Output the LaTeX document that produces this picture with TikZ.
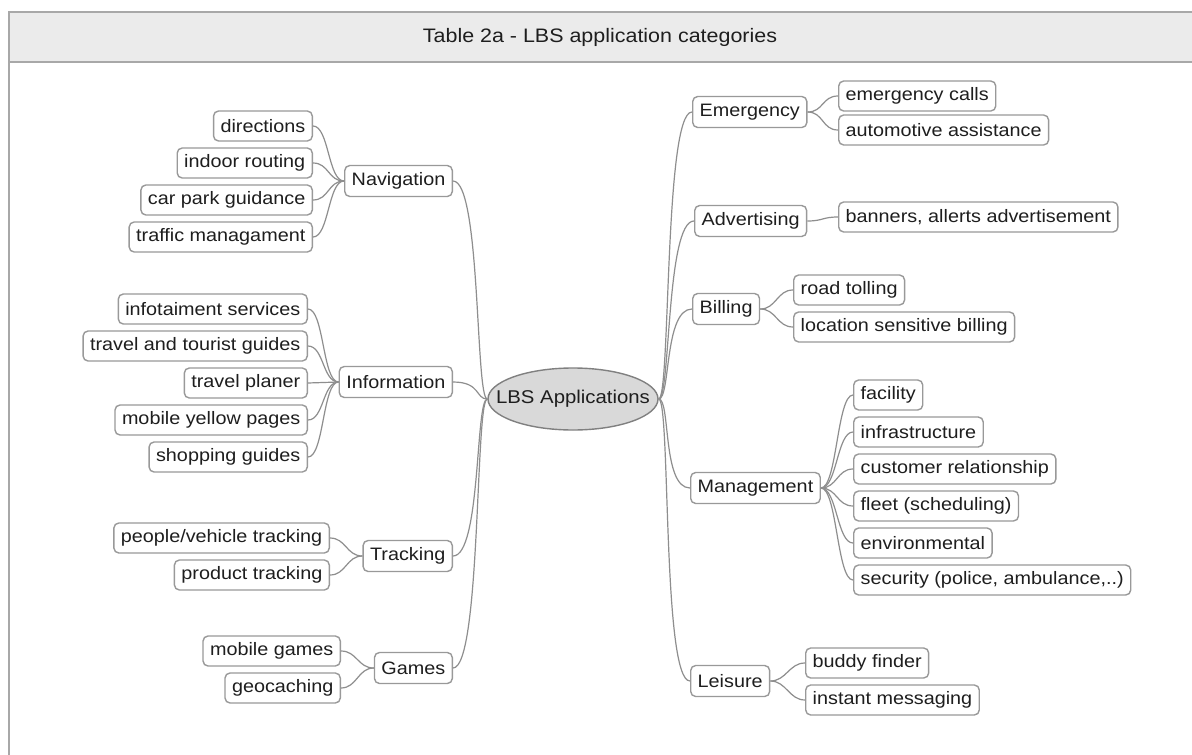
\documentclass[tikz,border=0pt]{standalone}
\usepackage{fontspec}
\setmainfont{Liberation Sans}[FakeStretch=1.1]
\usetikzlibrary{shapes.geometric}
\definecolor{framegray}{HTML}{A8A8A8}
\definecolor{headfill}{HTML}{EBEBEB}
\definecolor{boxline}{HTML}{999999}
\definecolor{edgegray}{HTML}{8E8E8E}
\definecolor{inkgray}{HTML}{1E1E1E}
\definecolor{hubfill}{HTML}{D9D9D9}
\tikzset{
  leaf/.style={draw=boxline, line width=1.4pt, fill=white, rounded corners=5pt,
    inner xsep=7pt, inner ysep=0pt, minimum height=30pt, text=inkgray,
    font=\fontsize{18}{20}\selectfont},
  branch/.style={leaf, minimum height=31pt},
  hub/.style={ellipse, draw=gray, line width=1.4pt, fill=hubfill, inner sep=0pt,
    minimum width=170pt, minimum height=62pt, text=inkgray,
    font=\fontsize{18.5}{20}\selectfont},
  link/.style={draw=edgegray, line width=1.2pt},
}
\newcommand{\lnk}[2]{\draw[link] (#1.west) .. controls +(-16,0) and +(16,0) .. (#2.east);}
\newcommand{\rnk}[2]{\draw[link] (#1.east) .. controls +(16,0) and +(-16,0) .. (#2.west);}
\begin{document}
\begin{tikzpicture}[x=1pt, y=-1pt]
\useasboundingbox (0,0) rectangle (1192,755);
% frame and title band
\fill[white] (0,0) rectangle (1192,755);
\draw[framegray, line width=2pt, fill=headfill] (9,12) rectangle (1200,62);
\draw[framegray, line width=2pt] (9,12) -- (9,760);
\node[text=inkgray, font=\fontsize{19.5}{22}\selectfont] (title) at (600,37) {Table 2a - LBS application categories};

% central node (text held in a zero-width box so the ellipse keeps its size)
\node[hub] (c) at (573,399) {\makebox[0pt]{LBS Applications}};

% left branches
\node[branch, anchor=east] (nav) at (453,181) {Navigation};
\node[branch, anchor=east] (inf) at (453,382) {Information};
\node[branch, anchor=east] (trk) at (453,556) {Tracking};
\node[branch, anchor=east] (gam) at (453,668) {Games};

% right branches
\node[branch, anchor=west] (emg) at (692,112) {Emergency};
\node[branch, anchor=west] (adv) at (694,221) {Advertising};
\node[branch, anchor=west] (bil) at (692,309) {Billing};
\node[branch, anchor=west] (mng) at (690,488) {Management};
\node[branch, anchor=west] (lei) at (690,681) {Leisure};

% navigation leaves
\node[leaf, anchor=east] (n1) at (313,126) {directions};
\node[leaf, anchor=east] (n2) at (313,163) {indoor routing};
\node[leaf, anchor=east] (n3) at (313,200) {car park guidance};
\node[leaf, anchor=east] (n4) at (313,237) {traffic managament};
% information leaves
\node[leaf, anchor=east] (i1) at (308,309) {infotaiment services};
\node[leaf, anchor=east] (i2) at (308,346) {travel and tourist guides};
\node[leaf, anchor=east] (i3) at (308,383) {travel planer};
\node[leaf, anchor=east] (i4) at (308,420) {mobile yellow pages};
\node[leaf, anchor=east] (i5) at (308,457) {shopping guides};
% tracking leaves
\node[leaf, anchor=east] (t1) at (330,538) {people/vehicle tracking};
\node[leaf, anchor=east] (t2) at (330,575) {product tracking};
% games leaves
\node[leaf, anchor=east] (g1) at (341,651) {mobile games};
\node[leaf, anchor=east] (g2) at (341,688) {geocaching};

% emergency leaves
\node[leaf, anchor=west] (e1) at (838,96) {emergency calls};
\node[leaf, anchor=west] (e2) at (838,130) {automotive assistance};
% advertising leaf
\node[leaf, anchor=west] (a1) at (838,217) {banners, allerts advertisement};
% billing leaves
\node[leaf, anchor=west] (b1) at (793,290) {road tolling};
\node[leaf, anchor=west] (b2) at (793,327) {location sensitive billing};
% management leaves
\node[leaf, anchor=west] (m1) at (853,395) {facility};
\node[leaf, anchor=west] (m2) at (853,432) {infrastructure};
\node[leaf, anchor=west] (m3) at (853,469) {customer relationship};
\node[leaf, anchor=west] (m4) at (853,506) {fleet (scheduling)};
\node[leaf, anchor=west] (m5) at (853,543) {environmental};
\node[leaf, anchor=west] (m6) at (853,580) {security (police, ambulance,..)};
% leisure leaves
\node[leaf, anchor=west] (l1) at (805,663) {buddy finder};
\node[leaf, anchor=west] (l2) at (805,700) {instant messaging};

% trunk connectors
\foreach \b in {nav,inf,trk,gam}
  \draw[link] (c.west) .. controls +(-12,0) and +(28,0) .. (\b.east);
\foreach \b in {emg,adv,bil,mng,lei}
  \draw[link] (c.east) .. controls +(12,0) and +(-28,0) .. (\b.west);

% leaf connectors
\foreach \l in {n1,n2,n3,n4} {\lnk{nav}{\l}}
\foreach \l in {i1,i2,i3,i4,i5} {\lnk{inf}{\l}}
\foreach \l in {t1,t2} {\lnk{trk}{\l}}
\foreach \l in {g1,g2} {\lnk{gam}{\l}}
\foreach \l in {e1,e2} {\rnk{emg}{\l}}
\rnk{adv}{a1}
\foreach \l in {b1,b2} {\rnk{bil}{\l}}
\foreach \l in {m1,m2,m3,m4,m5,m6} {\rnk{mng}{\l}}
\foreach \l in {l1,l2} {\rnk{lei}{\l}}
\end{tikzpicture}
\end{document}
